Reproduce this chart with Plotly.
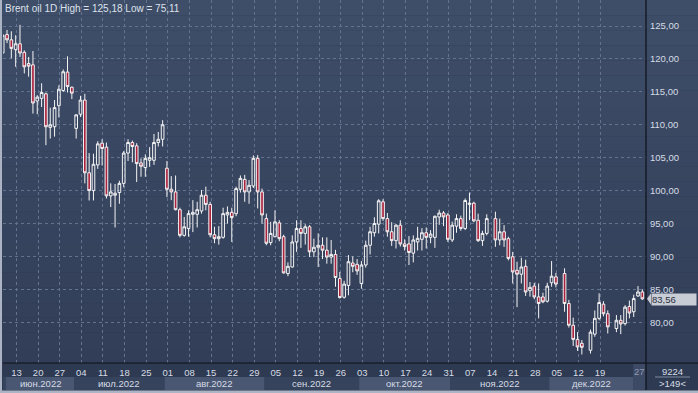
import pandas as pd
import plotly.graph_objects as go

# ---------------- data ----------------
trade_days = [d.strftime("%Y-%m-%d") for d in pd.bdate_range("2022-06-08", "2022-12-28")
              if d.strftime("%Y-%m-%d") != "2022-12-26"]
empty_days = ["2022-11-13", "2022-12-04", "2022-12-11", "2022-12-18"]

opens = [120.9, 123.7, 122.9, 121.4, 122.3, 121.0, 119.3, 119.1, 113.6, 114.0,
         114.7, 109.6, 109.7, 112.9, 115.2, 118.0, 115.7, 109.45, 111.6, 113.75,
         102.7, 100.0, 103.9, 107.2, 106.6, 99.2, 99.3, 99.7, 101.1, 105.7,
         107.3, 106.8, 104.2, 103.5, 104.6, 104.6, 107.3, 107.8, 103.4, 100.2,
         99.8, 97.1, 93.2, 94.25, 96.4, 96.4, 96.9, 99.3, 97.9, 93.3,
         92.7, 92.9, 96.3, 96.7, 96.5, 100.2, 101.7, 99.8, 100.7, 104.9,
         99.8, 95.75, 92.1, 93.0, 95.1, 93.0, 87.4, 88.4, 92.2, 94.25,
         93.5, 94.5, 90.7, 91.4, 91.7, 90.95, 89.9, 90.3, 86.65, 83.8,
         85.6, 89.0, 88.8, 85.9, 88.7, 91.7, 93.6, 94.9, 98.3, 95.75,
         93.75, 92.4, 94.75, 91.9, 91.9, 90.5, 92.2, 92.6, 93.6, 92.9,
         92.9, 96.0, 96.6, 96.3, 92.5, 94.6, 95.75, 94.25, 97.9, 98.1,
         95.5, 92.4, 93.5, 95.75, 92.5, 93.75, 92.7, 89.95, 87.9, 87.3,
         88.5, 84.8, 85.5, 83.85, 83.85, 83.2, 86.0, 86.9, 87.4, 82.85,
         79.55, 77.4, 76.8, 75.75, 78.2, 80.6, 82.75, 81.3, 79.05, 80.3,
         79.8, 82.4, 81.6, 84.0, 84.6]
highs = [123.8, 124.4, 124.2, 123.6, 125.18, 121.3, 120.3, 121.2, 114.5, 116.3,
         114.9, 112.6, 113.75, 116.0, 118.4, 120.4, 115.8, 111.6, 114.4, 114.7,
         105.7, 105.6, 107.5, 107.8, 107.3, 101.1, 101.0, 101.5, 106.0, 107.8,
         107.6, 107.2, 104.9, 105.5, 106.6, 108.6, 108.9, 110.7, 104.5, 102.2,
         102.3, 97.4, 96.0, 97.0, 98.55, 98.3, 100.1, 100.6, 98.3, 94.5,
         94.6, 97.4, 97.6, 97.4, 100.6, 102.3, 102.4, 101.6, 105.35, 105.4,
         100.3, 96.5, 95.25, 97.0, 95.5, 93.3, 89.1, 93.2, 95.5, 95.5,
         94.9, 94.75, 92.7, 93.5, 92.9, 92.9, 92.5, 91.0, 87.65, 86.3,
         90.2, 90.0, 89.6, 89.3, 92.4, 94.5, 95.95, 98.7, 98.7, 96.6,
         95.2, 94.9, 95.5, 92.6, 93.1, 93.2, 94.5, 94.3, 94.4, 94.0,
         96.2, 97.1, 96.9, 96.6, 95.3, 96.4, 96.2, 98.8, 99.7, 98.3,
         96.5, 93.9, 96.4, 96.8, 95.75, 94.75, 93.0, 90.7, 89.2, 89.8,
         89.5, 86.1, 86.0, 85.9, 84.5, 86.0, 89.3, 87.5, 88.2, 83.4,
         80.7, 78.5, 77.3, 78.9, 81.8, 84.4, 83.2, 81.8, 81.1, 81.1,
         82.6, 83.3, 84.2, 85.5, 85.0]
lows = [120.8, 122.4, 120.1, 118.8, 120.3, 117.8, 117.3, 111.7, 111.6, 112.7,
        106.9, 107.9, 108.2, 111.1, 115.0, 114.9, 113.9, 107.9, 111.2, 101.1,
        98.5, 98.5, 103.3, 103.8, 98.8, 97.5, 94.4, 98.0, 100.5, 104.5,
        104.3, 101.3, 102.1, 102.1, 103.6, 103.9, 106.7, 106.7, 99.0, 98.55,
        97.0, 92.9, 93.0, 93.0, 93.7, 94.4, 96.5, 97.0, 92.9, 92.0,
        91.8, 92.7, 95.0, 92.2, 96.1, 99.7, 98.3, 98.0, 100.4, 97.3,
        95.0, 91.7, 91.7, 92.9, 92.3, 87.4, 87.0, 88.3, 90.7, 91.3,
        91.8, 89.9, 89.9, 88.4, 89.6, 88.9, 88.9, 85.4, 83.6, 83.6,
        84.1, 87.6, 87.2, 85.1, 88.3, 90.3, 93.0, 93.5, 95.4, 93.0,
        91.6, 91.2, 91.5, 90.9, 88.7, 89.1, 90.9, 90.9, 91.2, 92.0,
        91.3, 94.8, 94.6, 92.2, 92.2, 93.6, 93.9, 94.0, 95.5, 95.2,
        92.2, 91.6, 93.2, 91.45, 91.7, 91.45, 89.4, 85.9, 82.3, 85.9,
        84.0, 83.9, 83.5, 80.6, 82.9, 83.0, 85.4, 85.3, 81.6, 79.2,
        76.4, 75.65, 75.11, 75.25, 77.8, 80.3, 80.9, 78.3, 78.5, 78.2,
        79.5, 80.6, 80.8, 83.85, 83.4]
closes = [123.6, 122.9, 121.6, 122.3, 120.9, 118.8, 118.9, 113.3, 114.2, 114.9,
          109.7, 110.0, 112.6, 115.4, 118.05, 115.8, 114.8, 111.5, 113.75, 102.7,
          100.0, 104.0, 107.1, 106.4, 99.2, 99.8, 99.6, 101.1, 105.7, 107.3,
          106.7, 104.1, 103.7, 104.9, 105.0, 107.3, 107.8, 110.0, 100.2, 99.8,
          97.1, 93.2, 94.5, 96.5, 96.7, 97.1, 99.3, 97.9, 93.3, 92.7,
          93.0, 96.5, 96.7, 95.9, 100.3, 101.85, 99.8, 100.8, 104.9, 99.8,
          96.3, 92.0, 93.5, 95.25, 92.7, 87.5, 88.5, 92.2, 94.25, 93.5,
          94.5, 90.7, 91.4, 91.7, 90.95, 89.9, 90.3, 86.8, 83.75, 85.8,
          89.2, 88.5, 87.8, 88.7, 91.7, 93.75, 95.0, 98.45, 95.75, 93.75,
          92.4, 94.75, 91.9, 91.5, 90.6, 92.5, 92.75, 93.6, 92.9, 93.4,
          96.1, 96.6, 96.0, 92.6, 94.75, 95.75, 94.25, 98.5, 98.1, 95.4,
          92.4, 93.5, 95.75, 92.5, 93.75, 92.5, 89.7, 87.65, 87.3, 88.4,
          84.6, 85.3, 83.85, 82.85, 83.1, 85.5, 87.0, 85.8, 82.85, 79.55,
          77.4, 76.25, 76.2, 78.5, 80.6, 83.0, 81.3, 79.3, 80.3, 79.75,
          82.3, 81.4, 83.6, 84.6, 83.56]

week_labels = ["13", "20", "27", "04", "11", "18", "25", "01", "08", "15", "22", "29",
               "05", "12", "19", "26", "03", "10", "17", "24", "31", "07", "14", "21",
               "28", "05", "12", "19"]
current_label = "27"
month_labels = ["июн.2022", "июл.2022", "авг.2022", "сен.2022", "окт.2022", "ноя.2022", "дек.2022"]
price_ticks = [80, 85, 90, 95, 100, 105, 110, 115, 120, 125]
volume_text = "9224"
bars_text = ">149<"

# ---------------- layout geometry (pixels) ----------------
W, H = 698, 393
PL, PR, PB = 3, 646, 363          # plot left, right, bottom (from top)
BAR0, STEP = 2.7, 4.322          # first bar centre and bar spacing in px
P_TOP, P_PX = 125.0, 26.0        # price 125 sits at y=26 px
PX_PER = 6.584                    # px per price unit

slots = sorted(trade_days + empty_days)
x_lo = (PL - BAR0) / STEP
x_hi = (PR - BAR0) / STEP
y_hi = P_TOP + P_PX / PX_PER
y_lo = P_TOP - (PB - P_PX) / PX_PER

week_pos = [3.2 + 5 * k for k in range(len(week_labels))]
cur_pos = 147.3

BG_TOP = (62, 77, 104)
BG_BOT = (50, 62, 88)
GRID = "#62728f"
TXT = "#d6dce6"
FONT = "Liberation Sans, Arial"
FS = 9.5


def py(Y):  # pixel-from-top -> paper y (paper spans the plot area)
    return (PB - Y) / PB


def px_(X):  # pixel-from-left -> paper x
    return (X - PL) / (PR - PL)


def note(x, y, text, xref="paper", yref="paper", xanchor="center", size=FS, color=TXT, **kw):
    d = dict(x=x, y=y, xref=xref, yref=yref, text=text, showarrow=False,
             xanchor=xanchor, yanchor="middle",
             font=dict(size=size, color=color, family=FONT))
    d.update(kw)
    return d


fig = go.Figure()
fig.add_trace(go.Candlestick(
    x=trade_days, open=opens, high=highs, low=lows, close=closes,
    increasing=dict(line=dict(color="#f4f4f4", width=1), fillcolor="rgba(0,0,0,0)"),
    decreasing=dict(line=dict(color="#f4f4f4", width=1), fillcolor="#a9213d"),
    whiskerwidth=0, showlegend=False, hoverinfo="skip",
))

shapes = []
# background gradient for chart + right panel
n = 24
for k in range(n):
    t = k / (n - 1)
    c = tuple(round(BG_TOP[j] + (BG_BOT[j] - BG_TOP[j]) * t) for j in range(3))
    shapes.append(dict(type="rect", xref="paper", yref="paper", layer="below",
                       x0=px_(0), x1=px_(W), y0=py(PB * (k + 1) / n), y1=py(PB * k / n),
                       line=dict(width=0), fillcolor="rgb(%d,%d,%d)" % c))
# bottom axis strip
shapes.append(dict(type="rect", xref="paper", yref="paper", layer="below",
                   x0=px_(0), x1=px_(W), y0=py(H), y1=py(PB), line=dict(width=0),
                   fillcolor="#2e3a51"))
shapes.append(dict(type="rect", xref="paper", yref="paper", layer="below",
                   x0=px_(PL), x1=px_(PR), y0=py(390), y1=py(377), line=dict(width=0),
                   fillcolor="#36435d"))
# month bands
starts = []
for i, d in enumerate(slots):
    m = d[:7]
    if i == 0 or m != slots[i - 1][:7]:
        starts.append(i - 0.5)
bounds = starts + [cur_pos - 1.4]
bounds[0] = x_lo + 0.7
annotations = []
for k, lab in enumerate(month_labels):
    a, b = bounds[k], bounds[k + 1]
    if k % 2 == 0:
        shapes.append(dict(type="rect", xref="x", yref="paper", layer="below",
                           x0=a, x1=b, y0=py(390), y1=py(377), line=dict(width=0),
                           fillcolor="#4a5773"))
    annotations.append(note((a + b) / 2, py(383.5), lab, xref="x"))
# current-date cell
shapes.append(dict(type="rect", xref="x", yref="paper", layer="below",
                   x0=cur_pos - 1.4, x1=x_hi, y0=py(390), y1=py(PB + 1),
                   line=dict(width=0), fillcolor="#3d4a66"))
annotations.append(note(cur_pos, py(371), current_label, xref="x", color="#8f9bb0"))
# separator lines
shapes.append(dict(type="line", xref="paper", yref="paper", x0=px_(PR), x1=px_(PR),
                   y0=py(390), y1=py(0), line=dict(color="#0c1018", width=1.2)))
shapes.append(dict(type="line", xref="paper", yref="paper", x0=px_(PL), x1=px_(W),
                   y0=py(PB), y1=py(PB), line=dict(color="#0c1018", width=1.2)))
shapes.append(dict(type="line", xref="paper", yref="paper", x0=px_(655), x1=px_(690),
                   y0=py(377), y1=py(377), line=dict(color="#7f8aa0", width=1)))
# window border
shapes.append(dict(type="rect", xref="paper", yref="paper", layer="above",
                   x0=px_(0), x1=px_(2), y0=py(H), y1=py(0), line=dict(width=0),
                   fillcolor="#aab4c4"))
shapes.append(dict(type="rect", xref="paper", yref="paper", layer="above",
                   x0=px_(0), x1=px_(W), y0=py(H), y1=py(390.5), line=dict(width=0),
                   fillcolor="#aab4c4"))
# last price tag
last = closes[-1]
shapes.append(dict(type="path", xref="paper", yref="y",
                   path="M %f,%f L %f,%f L %f,%f Z" % (px_(PR + 1), last, px_(PR + 5), last + 0.85,
                                                      px_(PR + 5), last - 0.85),
                   fillcolor="#c8ccd5", line=dict(width=0)))
annotations.append(note(px_(PR + 5), last - 0.12, ("%.2f" % last).replace(".", ","), yref="y",
                        xanchor="left", size=FS, color="#28303e", width=44, height=11,
                        align="left", valign="middle", bgcolor="#c8ccd5", borderpad=0))
# title
title = "Brent oil 1D High = %s Low = %s" % (("%.2f" % max(highs)).replace(".", ","),
                                             ("%.2f" % min(lows)).replace(".", ","))
annotations.append(note(px_(3), py(8), title, xanchor="left", size=10, color="#dde2ea"))
# right-bottom box
annotations.append(note(px_(672), py(371), volume_text))
annotations.append(note(px_(672), py(383.5), bars_text))

fig.update_layout(
    width=W, height=H,
    margin=dict(l=PL, r=W - PR, t=0, b=H - PB, autoexpand=False),
    paper_bgcolor="#2e3a51", plot_bgcolor="rgba(0,0,0,0)",
    separators=", ",
    boxgap=0.12,
    hovermode=False,
    showlegend=False,
    shapes=shapes, annotations=annotations,
    xaxis=dict(type="category", categoryorder="array", categoryarray=slots,
               range=[x_lo, x_hi], tickmode="array", tickvals=week_pos, ticktext=week_labels,
               showgrid=True, gridcolor=GRID, griddash="3px,3px", gridwidth=1,
               ticks="", showline=False, zeroline=False, automargin=False,
               ticklabelstandoff=2,
               tickfont=dict(size=FS, color=TXT, family=FONT),
               rangeslider=dict(visible=False), fixedrange=True),
    yaxis=dict(side="right", range=[y_lo, y_hi], tickmode="array", tickvals=price_ticks,
               tickformat=".2f", showgrid=True, gridcolor=GRID, griddash="3px,3px", gridwidth=1,
               ticks="outside", ticklen=1, tickcolor="rgba(0,0,0,0)", showline=False,
               zeroline=False, automargin=False,
               tickfont=dict(size=FS, color=TXT, family=FONT), fixedrange=True),
)

fig.write_html("out.html", config={"displayModeBar": False},
               post_script="document.body.style.margin='0';document.body.style.overflow='hidden';")
